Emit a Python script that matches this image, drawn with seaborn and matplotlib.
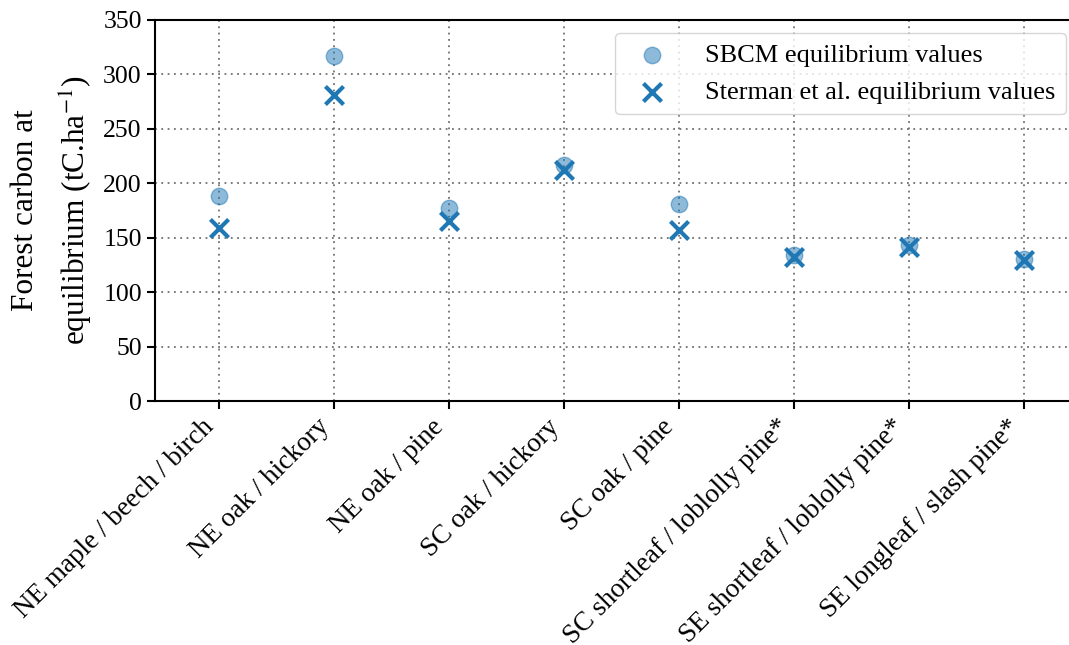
import matplotlib
matplotlib.use("Agg")
import matplotlib.pyplot as plt
import seaborn as sns
import pandas as pd

forest_types = [
    "NE maple / beech / birch",
    "NE oak / hickory",
    "NE oak / pine",
    "SC oak / hickory",
    "SC oak / pine",
    "SC shortleaf / loblolly pine*",
    "SE shortleaf / loblolly pine*",
    "SE longleaf / slash pine*",
]
sbcm_values = [188, 317, 177, 217, 181, 134, 143, 131]
sterman_values = [159, 281, 165, 212, 157, 132, 142, 130]
y_ticks = [0, 50, 100, 150, 200, 250, 300, 350]

sns.set_theme(style="ticks")
plt.rcParams["font.family"] = ["Liberation Serif", "DejaVu Serif"]
plt.rcParams["mathtext.fontset"] = "stix"
plt.rcParams["text.color"] = "black"
plt.rcParams["axes.labelcolor"] = "black"
plt.rcParams["xtick.color"] = "black"
plt.rcParams["ytick.color"] = "black"

df = pd.DataFrame({
    "forest": forest_types,
    "sbcm": sbcm_values,
    "sterman": sterman_values,
})
df["pos"] = range(len(df))

fig = plt.figure(figsize=(10.69, 6.45), dpi=100)
ax = fig.add_axes([0.145, 0.378, 0.8644, 0.591])

blue = "#1f77b4"
sns.scatterplot(data=df, x="pos", y="sbcm", ax=ax, marker="o", s=140,
                color=blue, alpha=0.5, edgecolor=blue, linewidth=1.0,
                label="SBCM equilibrium values", zorder=3)
sns.scatterplot(data=df, x="pos", y="sterman", ax=ax, marker="x", s=170,
                color=blue, linewidth=3.0,
                label="Sterman et al. equilibrium values", zorder=4)

ax.set_xlim(-0.557, 7.478)
ax.set_ylim(0, 350)
ax.set_yticks(y_ticks)
ax.set_xticks(df["pos"])
ax.set_xticklabels(forest_types, rotation=45, ha="right", fontsize=19.5)
ax.tick_params(axis="y", labelsize=18.5)
ax.tick_params(axis="both", length=6, width=1.5, color="black")
ax.set_xlabel("")
ax.set_ylabel("Forest carbon at\nequilibrium (tC.ha$^{-1}$)", fontsize=22.5,
              labelpad=6, linespacing=1.65)

ax.grid(True, linestyle=(0, (1, 2.5)), color="#707070", linewidth=1.3)
ax.set_axisbelow(True)
for side in ["left", "bottom", "top"]:
    ax.spines[side].set_color("black")
    ax.spines[side].set_linewidth(1.5)
ax.spines["right"].set_visible(False)

leg = ax.legend(loc="upper right", fontsize=19, frameon=True,
                fancybox=True, framealpha=0.8, edgecolor="#cccccc",
                handletextpad=1.0, borderpad=0.4, markerscale=1.0)

fig.savefig("out.png", dpi=100)
